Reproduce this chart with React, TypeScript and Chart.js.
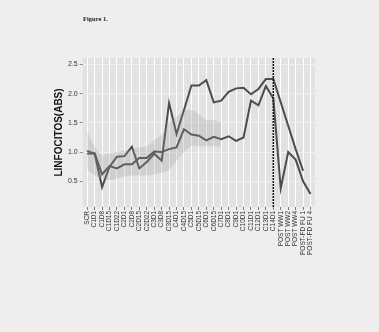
import React, { useEffect, useRef } from "react";
import { Chart, registerables } from "chart.js";

Chart.register(...registerables);

const categories = [
  "SCR", "C1D1", "C1D8", "C1D15", "C1D22", "C2D1", "C2D8", "C2D15", "C2D22",
  "C3D1", "C3D8", "C3D15", "C4D1", "C4D15", "C5D1", "C5D15", "C6D1", "C6D15",
  "C7D1", "C8D1", "C9D1", "C10D1", "C11D1", "C12D1", "C13D1", "C14D1",
  "POST WW1", "POST WW2", "POST WW4", "POST-FD FU 1", "POST-FD FU 4",
];

const seriesA = [
  1.02, 0.97, 0.40, 0.75, 0.92, 0.93, 1.09, 0.72, 0.83, 0.97, 0.85, 1.84, 1.31,
  1.72, 2.14, 2.14, 2.23, 1.85, 1.88, 2.03, 2.09, 2.10, 1.99, 2.08, 2.25, 2.25,
  1.85, 1.45, 1.05, 0.68, null,
];

const seriesB = [
  0.97, 0.98, 0.62, 0.76, 0.72, 0.79, 0.79, 0.90, 0.90, 1.01, 1.00, 1.05, 1.08,
  1.39, 1.30, 1.28, 1.20, 1.26, 1.22, 1.27, 1.19, 1.25, 1.88, 1.80, 2.13, 1.92,
  0.38, 1.00, 0.87, 0.50, 0.28,
];

const bandHigh = [
  1.35, 1.1, 0.95, 0.98, 1.0, 1.02, 1.05, 1.08, 1.1, 1.2, 1.3, 1.5, 1.6, 1.7,
  1.72, 1.65, 1.55, 1.55, 1.5,
];
const bandLow = [
  0.7, 0.6, 0.55, 0.52, 0.55, 0.58, 0.6, 0.6, 0.6, 0.62, 0.65, 0.7, 0.85, 1.0,
  1.1, 1.1, 1.1, 1.1, 1.1,
];

const yTicks = [0.5, 1.0, 1.5, 2.0, 2.5];
const markerCategory = "C14D1";
const yTitle = "LINFOCITOS(ABS)";
const figureTitle = "Figure 1.";

const toPoints = (arr: (number | null)[]) =>
  arr.map((v, i) => ({ x: i, y: v }));

const panelPlugin = {
  id: "panel",
  beforeDraw(chart: any) {
    const { ctx, chartArea } = chart;
    ctx.save();
    ctx.fillStyle = "#e2e2e2";
    ctx.fillRect(chartArea.left, chartArea.top, chartArea.width, chartArea.height);
    ctx.restore();
  },
  afterDatasetsDraw(chart: any) {
    const { ctx, chartArea, scales } = chart;
    const idx = categories.indexOf(markerCategory);
    const x = scales.x.getPixelForValue(idx);
    ctx.save();
    ctx.strokeStyle = "#111";
    ctx.lineWidth = 1.5;
    ctx.setLineDash([2, 1]);
    ctx.beginPath();
    ctx.moveTo(x, chartArea.top);
    ctx.lineTo(x, chartArea.bottom);
    ctx.stroke();
    ctx.restore();
  },
};

export default function App() {
  const ref = useRef<HTMLCanvasElement>(null);
  useEffect(() => {
    document.body.style.margin = "0";
    document.body.style.background = "#eeeeee";
    const chart = new Chart(ref.current!, {
      type: "line",
      data: {
        datasets: [
          {
            data: toPoints(bandHigh),
            borderWidth: 0,
            pointRadius: 0,
            fill: "+1",
            backgroundColor: "rgba(150,150,150,0.25)",
            tension: 0.4,
          },
          {
            data: toPoints(bandLow),
            borderWidth: 0,
            pointRadius: 0,
            fill: false,
            tension: 0.4,
          },
          {
            data: toPoints(seriesA),
            borderColor: "#4d4d4d",
            borderWidth: 2,
            pointRadius: 0,
            fill: false,
          },
          {
            data: toPoints(seriesB),
            borderColor: "#4d4d4d",
            borderWidth: 2,
            pointRadius: 0,
            fill: false,
          },
        ],
      },
      plugins: [panelPlugin],
      options: {
        animation: false,
        responsive: false,
        layout: { padding: { left: 52, right: 64, top: 58, bottom: 76 } },
        plugins: { legend: { display: false }, tooltip: { enabled: false } },
        scales: {
          x: {
            type: "linear",
            min: -0.6,
            max: categories.length - 1 + 0.6,
            afterBuildTicks: (scale: any) => {
              scale.ticks = categories.map((_, i) => ({ value: i }));
            },
            ticks: {
              autoSkip: false,
              maxRotation: 90,
              minRotation: 90,
              padding: 1,
              color: "#333",
              font: { family: "Liberation Sans", size: 6.5 },
              callback: (v: any) => categories[v as number] ?? "",
            },
            grid: { color: "#ffffff", lineWidth: 1, tickLength: 3, tickColor: "#777" },
            border: { display: false },
          },
          y: {
            min: 0.06,
            max: 2.61,
            afterBuildTicks: (scale: any) => {
              scale.ticks = yTicks.map((v) => ({ value: v }));
            },
            ticks: {
              padding: 2,
              color: "#333",
              font: { family: "Liberation Sans", size: 7 },
              callback: (v: any) => Number(v).toFixed(1),
            },
            title: {
              display: true,
              text: yTitle,
              color: "#111",
              padding: 1,
              font: { family: "Liberation Sans", size: 10, weight: "bold" },
            },
            grid: { color: "#f4f4f4", lineWidth: 0.8, tickLength: 3, tickColor: "#777" },
            border: { display: false },
          },
        },
      },
    });
    return () => chart.destroy();
  }, []);
  return (
    <div style={{ position: "relative", width: 379, height: 332, background: "#eeeeee" }}>
      <div
        style={{
          position: "absolute",
          left: 83,
          top: 15,
          fontFamily: "Liberation Serif",
          fontWeight: "bold",
          fontSize: 6.5,
          color: "#222",
        }}
      >
        {figureTitle}
      </div>
      <canvas ref={ref} width={379} height={332} style={{ display: "block" }} />
    </div>
  );
}
